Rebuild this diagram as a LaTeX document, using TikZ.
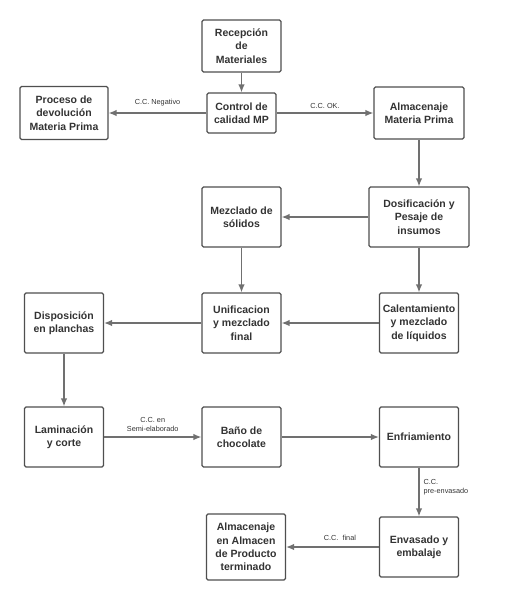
\documentclass[tikz,border=0pt]{standalone}
\usepackage{fontspec}
\setmainfont{Liberation Sans}
\usetikzlibrary{positioning,arrows.meta}
\definecolor{cajagris}{HTML}{4F4F4F}
\definecolor{flechagris}{HTML}{707070}
\definecolor{textogris}{HTML}{333333}

\begin{document}
\begin{tikzpicture}[x=1pt, y=-1pt, semithick,
flecha/.style={-{Latex[length=8pt,width=6.5pt]}, flechagris, line width=1.3pt},
paso/.style={rectangle, rounded corners=1.5pt, draw=cajagris, line width=1.2pt,
fill=white, text=textogris, align=center, inner sep=1pt,
font=\bfseries\fontsize{10.5}{13.3}\selectfont,
minimum width=79pt, minimum height=60pt},
etiqueta/.style={text=textogris, font=\fontsize{7.3}{9}\selectfont, inner sep=1pt}]
  \useasboundingbox (0,0) rectangle (531,600);
  % fila superior
  \node[paso, minimum height=52pt] (Recep) at (241.5,46) {Recepción\\de\\Materiales};
  \node[paso, minimum width=69pt, minimum height=40pt] (Control) at (241.5,113) {Control de\\calidad MP};
  \node[paso, minimum width=88pt, minimum height=53pt] (Devol) at (64,113) {Proceso de\\devolución\\Materia Prima};
  \node[paso, minimum width=90pt, minimum height=52pt] (AlmMP) at (419,113) {Almacenaje\\Materia Prima};
  % mezclado
  \node[paso, minimum width=100pt] (Dosif) at (419,217) {Dosificación y\\Pesaje de\\insumos};
  \node[paso] (Solidos) at (241.5,217) {Mezclado de\\sólidos};
  \node[paso] (Calent) at (419,323) {Calentamiento\\y mezclado\\de líquidos};
  \node[paso] (Unif) at (241.5,323) {Unificacion\\y mezclado\\final};
  \node[paso] (Dispo) at (64,323) {Disposición\\en planchas};
  % linea final
  \node[paso] (Lamin) at (64,437) {Laminación\\y corte};
  \node[paso] (Bano) at (241.5,437) {Baño de\\chocolate};
  \node[paso] (Enfria) at (419,437) {Enfriamiento};
  \node[paso] (Envas) at (419,547) {Envasado y\\embalaje};
  \node[paso, minimum height=66pt] (AlmPT) at (246,547) {Almacenaje\\en Almacen\\de Producto\\terminado};

\foreach \from/\to in {Recep/Control,AlmMP/Dosif,Dosif/Solidos,Solidos/Unif,Dosif/Calent,
  Calent/Unif,Unif/Dispo,Dispo/Lamin,Bano/Enfria}
    \draw[flecha] (\from) -- (\to);

  \draw[flecha] (Control) -- node[etiqueta, above=5pt] {C.C. Negativo} (Devol);
  \draw[flecha] (Control) -- node[etiqueta, above=3pt] {C.C. OK.} (AlmMP);
  \draw[flecha] (Lamin) -- node[etiqueta, above=4pt, align=center,
    font=\fontsize{7.3}{8.8}\selectfont] {C.C. en\\Semi-elaborado} (Bano);
  \draw[flecha] (Enfria) -- node[etiqueta, right=3pt, pos=0.4, align=left,
    font=\fontsize{7.3}{8.8}\selectfont] {C.C.\\pre-envasado} (Envas);
  \draw[flecha] (Envas) -- node[etiqueta, above=5pt, pos=0.42] {C.C.\ \ final} (AlmPT);
\end{tikzpicture}
\end{document}
